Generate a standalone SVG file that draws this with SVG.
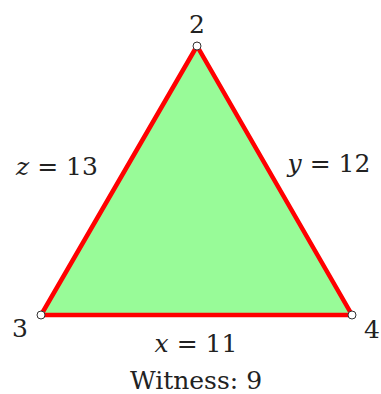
<svg xmlns="http://www.w3.org/2000/svg" width="381" height="394" viewBox="0 0 381 394">
<style>
text{font-family:"DejaVu Serif","Liberation Serif",serif;font-size:25px;fill:#222;}
.v{font-style:italic;}
.tri{fill:#98FB98;stroke:#FF0000;stroke-width:4.5;stroke-linejoin:miter;}
.pt{fill:#fff;stroke:#333;stroke-width:1;}
</style>
<g id="edges">
<polygon class="tri" points="197,46 41,315 352,315"/>
</g>
<g id="n2"><circle class="pt" cx="197" cy="46" r="4"/><text x="197" y="33" text-anchor="middle">2</text></g>
<g id="n3"><circle class="pt" cx="41" cy="315" r="4"/><text x="20" y="337" text-anchor="middle">3</text></g>
<g id="n4"><circle class="pt" cx="352" cy="315" r="4"/><text x="372" y="338" text-anchor="middle">4</text></g>
<g id="labels">
<text x="57" y="175" text-anchor="middle"><tspan class="v">z</tspan> = 13</text>
<text x="329" y="172" text-anchor="middle"><tspan class="v">y</tspan> = 12</text>
<text x="196" y="352" text-anchor="middle"><tspan class="v">x</tspan> = 11</text>
<text x="196" y="389" text-anchor="middle">Witness: 9</text>
</g>
</svg>
